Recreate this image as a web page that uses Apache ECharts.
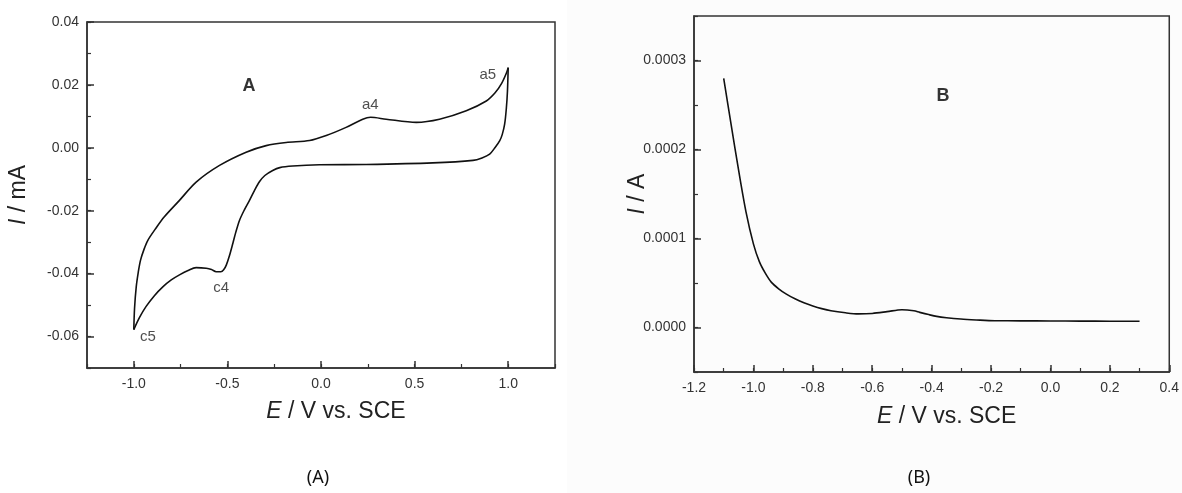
<!DOCTYPE html>
<html>
<head>
<meta charset="utf-8">
<script src="https://cdn.jsdelivr.net/npm/echarts@6/dist/echarts.min.js"></script>
<style>
html,body{margin:0;padding:0;background:#fff;}
#chart{width:1182px;height:493px;}
</style>
</head>
<body>
<div id="chart"></div>
<script>
// ---- Panel A: cyclic voltammogram (E / V vs SCE, I / mA) ----
const cvAnodicE = [-1.0, -0.996, -0.987, -0.976, -0.964, -0.945, -0.925, -0.88, -0.838, -0.756, -0.667, -0.542, -0.4, -0.293, -0.186, -0.061, 0.028, 0.134, 0.223, 0.265, 0.348, 0.509, 0.633, 0.776, 0.883, 0.93, 0.965, 0.99, 1.0];
const cvAnodicI = [-0.0578, -0.051, -0.0442, -0.0395, -0.0357, -0.0322, -0.0294, -0.0254, -0.022, -0.0167, -0.0109, -0.0056, -0.0014, 0.0007, 0.0017, 0.0023, 0.0039, 0.0065, 0.0091, 0.0097, 0.0091, 0.0081, 0.0091, 0.0118, 0.0149, 0.0175, 0.0205, 0.0237, 0.0255];
const cvCathodicE = [1.0, 0.996, 0.99, 0.981, 0.968, 0.955, 0.93, 0.901, 0.86, 0.812, 0.597, 0.241, -0.008, -0.151, -0.22, -0.258, -0.3, -0.329, -0.355, -0.382, -0.41, -0.435, -0.455, -0.471, -0.49, -0.506, -0.52, -0.535, -0.56, -0.585, -0.613, -0.667, -0.71, -0.756, -0.8, -0.845, -0.89, -0.935, -0.97, -1.0];
const cvCathodicI = [0.0255, 0.018, 0.0125, 0.0075, 0.0042, 0.0023, 0.0001, -0.002, -0.0032, -0.004, -0.0048, -0.0053, -0.0054, -0.0058, -0.0063, -0.0072, -0.0088, -0.0108, -0.0135, -0.0167, -0.0198, -0.023, -0.0268, -0.0304, -0.0345, -0.0373, -0.0388, -0.0394, -0.0394, -0.0387, -0.0383, -0.0381, -0.039, -0.0404, -0.042, -0.0442, -0.047, -0.0505, -0.054, -0.0578];
const annotA = ['A', 'a4', 'a5', 'c4', 'c5'];
const annotAE = [-0.385, 0.263, 0.891, -0.533, -0.925];
const annotAI = [0.0197, 0.0137, 0.0232, -0.0446, -0.0602];
const aXLabels = [-1.0, -0.5, 0.0, 0.5, 1.0];
const aYLabels = [-0.06, -0.04, -0.02, 0.0, 0.02, 0.04];

// ---- Panel B: linear sweep (E / V vs SCE, I / A) ----
const lsvE = [-1.1, -1.075, -1.05, -1.025, -1.0, -0.98, -0.96, -0.94, -0.915, -0.889, -0.86, -0.83, -0.8, -0.77, -0.739, -0.69, -0.647, -0.6, -0.55, -0.5, -0.46, -0.44, -0.41, -0.383, -0.35, -0.302, -0.25, -0.187, -0.1, 0.0, 0.1, 0.2, 0.3];
const lsvI = [0.00028, 0.000228, 0.000177, 0.00013, 0.000094, 0.000074, 0.000061, 0.000051, 0.0000435, 0.0000375, 0.0000322, 0.0000278, 0.0000242, 0.0000212, 0.0000188, 0.0000165, 0.0000153, 0.0000158, 0.0000178, 0.00002, 0.0000188, 0.000017, 0.0000145, 0.0000125, 0.000011, 0.0000095, 0.0000085, 0.0000076, 0.0000075, 0.0000073, 0.0000072, 0.0000071, 0.000007];
const annotB = ['B'];
const annotBE = [-0.362];
const annotBI = [0.00026];
const bXLabels = [-1.2, -1.0, -0.8, -0.6, -0.4, -0.2, 0.0, 0.2, 0.4];
const bYLabels = [0.0, 0.0001, 0.0002, 0.0003];

const captions = ['(A)', '(B)'];

const zip = (a, b) => a.map((v, i) => [v, b[i]]);
const lineCol = '#333';
const tickFont = {fontFamily: 'Liberation Sans, Arial, sans-serif', fontSize: 14, color: '#333'};
const nameStyle = {
  fontFamily: 'Liberation Sans, Arial, sans-serif', fontSize: 23, color: '#222',
  rich: {i: {fontStyle: 'italic', fontSize: 23, fontFamily: 'Liberation Sans, Arial, sans-serif', color: '#222'}}
};

function mainAxis(o) {
  return Object.assign({
    type: 'value', splitLine: {show: false}, nameMoveOverlap: false,
    axisLine: {show: true, onZero: false, lineStyle: {color: lineCol, width: 1.5}},
    axisTick: {show: true, inside: true, length: 4, lineStyle: {color: lineCol, width: 1.2}},
    axisLabel: Object.assign({margin: 9}, tickFont)
  }, o);
}
function majorAxis(o, vals) {
  return Object.assign({
    type: 'value', splitLine: {show: false},
    axisLine: {show: false, onZero: false},
    axisTick: {show: true, inside: true, length: 7, customValues: vals, lineStyle: {color: lineCol, width: 1.5}},
    axisLabel: {show: false}
  }, o);
}
const near = (v, arr, tol) => arr.some(a => Math.abs(a - v) < tol);

const option = {
  backgroundColor: '#ffffff',
  animation: false,
  graphic: [
    {type: 'rect', shape: {x: 567, y: 0, width: 615, height: 493}, style: {fill: '#fcfcfc'}, z: -10, silent: true},
    {type: 'text', x: 318, y: 478, style: {text: captions[0], font: '18px "Noto Sans", "Open Sans", sans-serif', fill: '#111', textAlign: 'center', textVerticalAlign: 'middle'}},
    {type: 'text', x: 919, y: 478, style: {text: captions[1], font: '18px "Noto Sans", "Open Sans", sans-serif', fill: '#111', textAlign: 'center', textVerticalAlign: 'middle'}}
  ],
  grid: [
    {left: 87, top: 22, width: 468, height: 346, show: true, borderColor: lineCol, borderWidth: 1.5, backgroundColor: 'transparent'},
    {left: 694, top: 16, width: 479, height: 356, show: true, borderColor: lineCol, borderWidth: 1.5, backgroundColor: 'transparent'}
  ],
  xAxis: [
    mainAxis({gridIndex: 0, position: 'bottom', min: -1.25, max: 1.25, interval: 0.25,
      name: '{i|E} / V vs. SCE', nameLocation: 'middle', nameGap: 32,
      nameTextStyle: Object.assign({padding: [0, 0, 0, 30]}, nameStyle),
      axisLabel: Object.assign({margin: 9, formatter: v => near(v, aXLabels, 1e-6) ? v.toFixed(1) : ''}, tickFont)}),
    majorAxis({gridIndex: 0, position: 'bottom', min: -1.25, max: 1.25}, aXLabels),
    mainAxis({gridIndex: 1, position: 'bottom', min: -1.2, max: 0.4, interval: 0.1,
      name: '{i|E} / V vs. SCE', nameLocation: 'middle', nameGap: 33,
      nameTextStyle: Object.assign({padding: [0, 0, 0, 30]}, nameStyle),
      axisLabel: Object.assign({margin: 9, formatter: v => near(v, bXLabels, 1e-6) ? v.toFixed(1) : ''}, tickFont)}),
    majorAxis({gridIndex: 1, position: 'bottom', min: -1.2, max: 0.4}, bXLabels)
  ],
  yAxis: [
    mainAxis({gridIndex: 0, position: 'left', min: -0.07, max: 0.04, interval: 0.01,
      name: '{i|I} / mA', nameLocation: 'middle', nameGap: 57, nameTextStyle: nameStyle,
      axisLabel: Object.assign({margin: 8, formatter: v => near(v, aYLabels, 1e-7) ? v.toFixed(2) : ''}, tickFont)}),
    majorAxis({gridIndex: 0, position: 'left', min: -0.07, max: 0.04}, aYLabels),
    mainAxis({gridIndex: 1, position: 'left', min: -0.00005, max: 0.00035, interval: 0.00005,
      name: '{i|I} / A', nameLocation: 'middle', nameGap: 45, nameTextStyle: nameStyle,
      axisLabel: Object.assign({margin: 8, formatter: v => near(v, bYLabels, 1e-9) ? v.toFixed(4) : ''}, tickFont)}),
    majorAxis({gridIndex: 1, position: 'left', min: -0.00005, max: 0.00035}, bYLabels)
  ],
  series: [
    {type: 'line', xAxisIndex: 0, yAxisIndex: 0, data: zip(cvAnodicE, cvAnodicI), smooth: 0.3, showSymbol: false,
      lineStyle: {color: '#111', width: 1.6}},
    {type: 'line', xAxisIndex: 0, yAxisIndex: 0, data: zip(cvCathodicE, cvCathodicI), smooth: 0.3, showSymbol: false,
      lineStyle: {color: '#111', width: 1.6}},
    {type: 'scatter', xAxisIndex: 0, yAxisIndex: 0, symbolSize: 1, itemStyle: {color: 'rgba(0,0,0,0)'},
      data: annotA.map((n, i) => ({name: n, value: [annotAE[i], annotAI[i]],
        label: n === 'A' ? {fontSize: 18, fontWeight: 'bold', color: '#000'} : {}})),
      label: {show: true, position: 'inside', formatter: p => p.name, fontFamily: 'Liberation Sans, Arial, sans-serif', fontSize: 15, color: '#222'}},
    {type: 'line', xAxisIndex: 2, yAxisIndex: 2, data: zip(lsvE, lsvI), smooth: 0.3, showSymbol: false,
      lineStyle: {color: '#111', width: 1.6}},
    {type: 'scatter', xAxisIndex: 2, yAxisIndex: 2, symbolSize: 1, itemStyle: {color: 'rgba(0,0,0,0)'},
      data: annotB.map((n, i) => ({name: n, value: [annotBE[i], annotBI[i]]})),
      label: {show: true, position: 'inside', formatter: p => p.name, fontFamily: 'Liberation Sans, Arial, sans-serif', fontSize: 18, fontWeight: 'bold', color: '#000'}}
  ]
};
const chart = echarts.init(document.getElementById('chart'), null, {renderer: 'canvas'});
chart.setOption(option);
</script>
</body>
</html>
